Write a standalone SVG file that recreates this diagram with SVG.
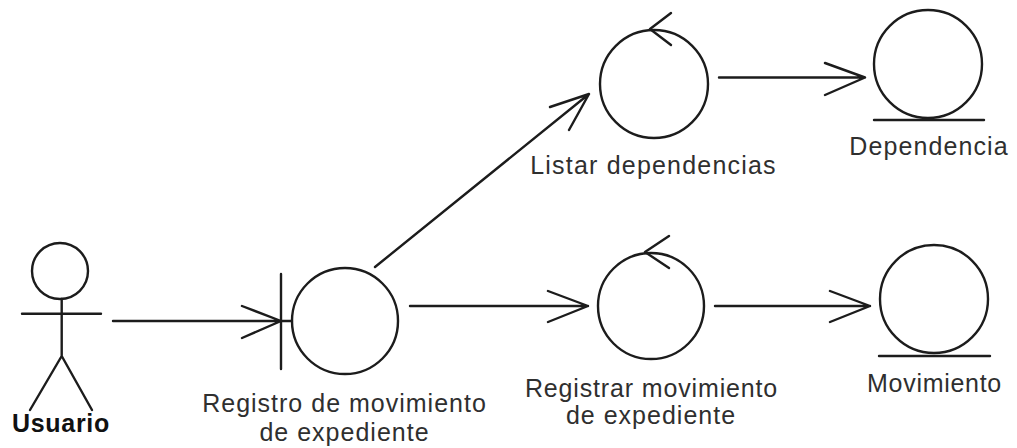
<svg xmlns="http://www.w3.org/2000/svg" width="1017" height="448" viewBox="0 0 1017 448">
<style>
.s{fill:none;stroke:#1c1c1c;stroke-width:2.4;stroke-linecap:round;stroke-linejoin:round}
text{font-family:"Liberation Sans",Arial,sans-serif;font-size:25px;letter-spacing:1px;fill:#2f2f2f;text-anchor:middle}
.b{font-weight:bold;fill:#111;letter-spacing:.7px}
</style>
<rect width="1017" height="448" fill="#fff"/>
<g id="connectors" class="s">
<path d="M113 321H281M242 306L281 321L242 338"/>
<path d="M375 267L589 94M550 107L589 94L569 130"/>
<path d="M410 306H588M548 291L588 306L548 322"/>
<path d="M719 77.500H865M825 63L865 77.500L825 95"/>
<path d="M715 306H870M830 291L870 306L830 322"/>
</g>
<g id="usuario">
<circle class="s" cx="60" cy="271" r="28"/>
<path class="s" d="M61.700 299V356M22 313.700H101M61.700 356L30 410M61.700 356L92 410"/>
<text class="b" x="61" y="432">Usuario</text>
</g>
<g id="registro">
<circle class="s" cx="345" cy="321" r="53"/>
<path class="s" d="M281 274V369M281 321H292"/>
<text x="344.500" y="412">Registro de movimiento</text>
<text x="344.500" y="441">de expediente</text>
</g>
<g id="listar">
<circle class="s" cx="654" cy="84" r="54"/>
<path class="s" d="M671 13L650 29L671 45"/>
<text x="653.500" y="174" style="letter-spacing:1.2px">Listar dependencias</text>
</g>
<g id="registrar">
<circle class="s" cx="651" cy="306" r="53"/>
<path class="s" d="M669 236L645 252L669 268"/>
<text x="651.500" y="397" style="letter-spacing:.85px">Registrar movimiento</text>
<text x="651" y="424">de expediente</text>
</g>
<g id="dependencia">
<circle class="s" cx="928" cy="64" r="54"/>
<path class="s" d="M874 120H984"/>
<text x="929" y="155" style="letter-spacing:1.1px">Dependencia</text>
</g>
<g id="movimiento">
<circle class="s" cx="934" cy="299" r="54"/>
<path class="s" d="M879 356H990"/>
<text x="934.500" y="392" style="letter-spacing:.7px">Movimiento</text>
</g>
</svg>
